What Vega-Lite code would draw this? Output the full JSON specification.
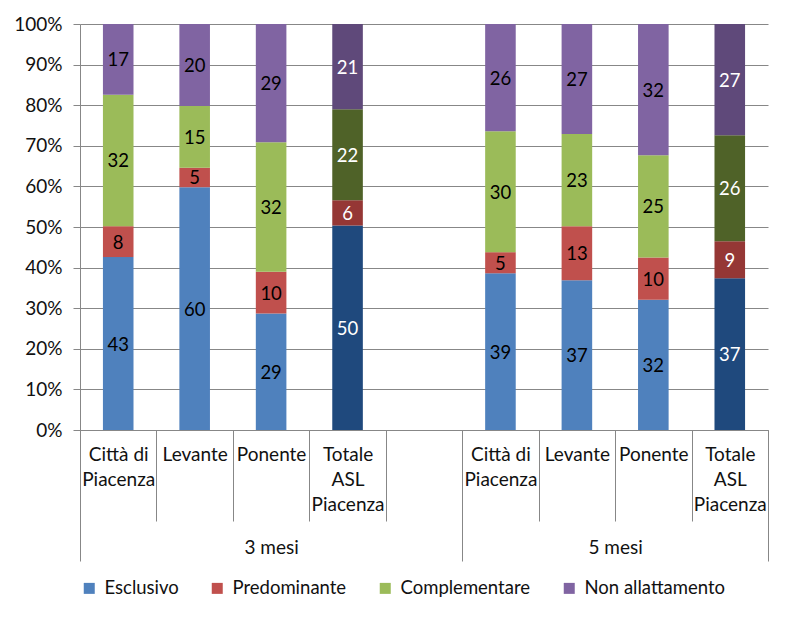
{
  "$schema": "https://vega.github.io/schema/vega-lite/v6.json",
  "width": 688,
  "height": 406,
  "autosize": {"type": "none"},
  "padding": {"left": 80, "top": 24, "right": 26, "bottom": 192},
  "background": "white",
  "config": {
    "font": "Lato",
    "view": {"stroke": null},
    "axis": {"labelFont": "Lato", "labelFontSize": 19, "labelColor": "#111111", "domainColor": "#878787", "tickColor": "#878787", "gridColor": "#878787"},
    "legend": {"labelFont": "Lato"}
  },
  "data": {
    "values": [
      {"cat": "3|Città di~Piacenza", "col": "Esclusivo", "ord": 1, "v": 42.6},
      {"cat": "3|Città di~Piacenza", "col": "Predominante", "ord": 2, "v": 7.6},
      {"cat": "3|Città di~Piacenza", "col": "Complementare", "ord": 3, "v": 32.4},
      {"cat": "3|Città di~Piacenza", "col": "Non allattamento", "ord": 4, "v": 17.4},
      {"cat": "3|Levante", "col": "Esclusivo", "ord": 1, "v": 59.8},
      {"cat": "3|Levante", "col": "Predominante", "ord": 2, "v": 4.8},
      {"cat": "3|Levante", "col": "Complementare", "ord": 3, "v": 15.2},
      {"cat": "3|Levante", "col": "Non allattamento", "ord": 4, "v": 20.2},
      {"cat": "3|Ponente", "col": "Esclusivo", "ord": 1, "v": 28.7},
      {"cat": "3|Ponente", "col": "Predominante", "ord": 2, "v": 10.3},
      {"cat": "3|Ponente", "col": "Complementare", "ord": 3, "v": 31.9},
      {"cat": "3|Ponente", "col": "Non allattamento", "ord": 4, "v": 29.1},
      {"cat": "3|Totale~ASL~Piacenza", "col": "Esclusivo Totale", "ord": 1, "v": 50.4},
      {"cat": "3|Totale~ASL~Piacenza", "col": "Predominante Totale", "ord": 2, "v": 6.2},
      {"cat": "3|Totale~ASL~Piacenza", "col": "Complementare Totale", "ord": 3, "v": 22.4},
      {"cat": "3|Totale~ASL~Piacenza", "col": "Non allattamento Totale", "ord": 4, "v": 21.0},
      {"cat": "5|Città di~Piacenza", "col": "Esclusivo", "ord": 1, "v": 38.6},
      {"cat": "5|Città di~Piacenza", "col": "Predominante", "ord": 2, "v": 5.2},
      {"cat": "5|Città di~Piacenza", "col": "Complementare", "ord": 3, "v": 29.8},
      {"cat": "5|Città di~Piacenza", "col": "Non allattamento", "ord": 4, "v": 26.4},
      {"cat": "5|Levante", "col": "Esclusivo", "ord": 1, "v": 36.9},
      {"cat": "5|Levante", "col": "Predominante", "ord": 2, "v": 13.3},
      {"cat": "5|Levante", "col": "Complementare", "ord": 3, "v": 22.7},
      {"cat": "5|Levante", "col": "Non allattamento", "ord": 4, "v": 27.1},
      {"cat": "5|Ponente", "col": "Esclusivo", "ord": 1, "v": 32.1},
      {"cat": "5|Ponente", "col": "Predominante", "ord": 2, "v": 10.4},
      {"cat": "5|Ponente", "col": "Complementare", "ord": 3, "v": 25.2},
      {"cat": "5|Ponente", "col": "Non allattamento", "ord": 4, "v": 32.3},
      {"cat": "5|Totale~ASL~Piacenza", "col": "Esclusivo Totale", "ord": 1, "v": 37.4},
      {"cat": "5|Totale~ASL~Piacenza", "col": "Predominante Totale", "ord": 2, "v": 9.1},
      {"cat": "5|Totale~ASL~Piacenza", "col": "Complementare Totale", "ord": 3, "v": 26.1},
      {"cat": "5|Totale~ASL~Piacenza", "col": "Non allattamento Totale", "ord": 4, "v": 27.4}
    ]
  },
  "layer": [
    {
      "transform": [
        {"stack": "v", "groupby": ["cat"], "sort": [{"field": "ord"}], "offset": "normalize", "as": ["y0", "y1"]},
        {"calculate": "(datum.y0 + datum.y1) / 2", "as": "ym"}
      ],
      "encoding": {
        "x": {
          "field": "cat",
          "type": "nominal",
          "scale": {
            "domain": ["3|Città di~Piacenza", "3|Levante", "3|Ponente", "3|Totale~ASL~Piacenza", "gap", "5|Città di~Piacenza", "5|Levante", "5|Ponente", "5|Totale~ASL~Piacenza"],
            "paddingInner": 0,
            "paddingOuter": 0
          },
          "axis": {
            "title": null,
            "orient": "bottom",
            "tickBand": "extent",
            "tickSize": 91,
            "labelPadding": -76,
            "labelAngle": 0,
            "labelBaseline": "top",
            "labelLineHeight": 25,
            "labelOverlap": false,
            "labelBound": false,
            "labelLimit": 0,
            "labelExpr": "(datum.value == null || datum.value == 'gap') ? '' : split(split(datum.value, '|')[1], '~')"
          }
        }
      },
      "layer": [
        {
          "mark": {"type": "bar", "width": {"band": 0.4}},
          "encoding": {
            "y": {
              "field": "y0",
              "type": "quantitative",
              "scale": {"domain": [0, 1], "nice": false},
              "axis": {
                "title": null,
                "values": [0, 0.1, 0.2, 0.3, 0.4, 0.5, 0.6, 0.7, 0.8, 0.9, 1],
                "format": ".0%",
                "grid": true,
                "tickSize": 7,
                "labelPadding": 11
              }
            },
            "y2": {"field": "y1"},
            "color": {
              "field": "col",
              "type": "nominal",
              "scale": {
                "domain": ["Esclusivo", "Predominante", "Complementare", "Non allattamento", "Esclusivo Totale", "Predominante Totale", "Complementare Totale", "Non allattamento Totale"],
                "range": ["#4F81BD", "#C0504D", "#9BBB59", "#8064A2", "#1F497D", "#953735", "#4F6228", "#5F497A"]
              },
              "legend": {
                "values": ["Esclusivo", "Predominante", "Complementare", "Non allattamento"],
                "title": null,
                "orient": "none",
                "direction": "horizontal",
                "legendX": 0,
                "legendY": 555,
                "symbolType": "square",
                "symbolSize": 121,
                "symbolStrokeWidth": 0,
                "labelFontSize": 18.5,
                "labelColor": "#111111",
                "labelOffset": 6,
                "columnPadding": 29
              }
            }
          }
        },
        {
          "mark": {"type": "text", "fontSize": 18.5, "font": "Lato", "baseline": "middle", "dy": 1},
          "encoding": {
            "y": {"field": "ym", "type": "quantitative"},
            "text": {"field": "v", "type": "quantitative", "format": ".0f"},
            "color": {
              "condition": {"test": "indexof(datum.cat, 'Totale') >= 0", "value": "white"},
              "value": "black"
            }
          }
        }
      ]
    },
    {
      "data": {"values": [{"gruppo": "3 mesi", "gx": 2.5}, {"gruppo": "5 mesi", "gx": 7}]},
      "mark": {"type": "point", "opacity": 0},
      "encoding": {
        "x": {
          "field": "gx",
          "type": "quantitative",
          "scale": {"domain": [0, 9], "nice": false, "zero": false},
          "axis": {
            "title": null,
            "orient": "bottom",
            "values": [0, 2.5, 5, 7, 9],
            "domain": false,
            "grid": false,
            "tickSize": 131,
            "tickOpacity": {"condition": {"test": "datum.value == 2.5 || datum.value == 7", "value": 0}, "value": 1},
            "labelPadding": -23,
            "labelBaseline": "top",
            "labelFlush": false,
            "labelOverlap": false,
            "labelExpr": "datum.value == 2.5 ? '3 mesi' : datum.value == 7 ? '5 mesi' : ''"
          }
        }
      }
    }
  ],
  "resolve": {"scale": {"x": "independent"}, "axis": {"x": "independent"}}
}
